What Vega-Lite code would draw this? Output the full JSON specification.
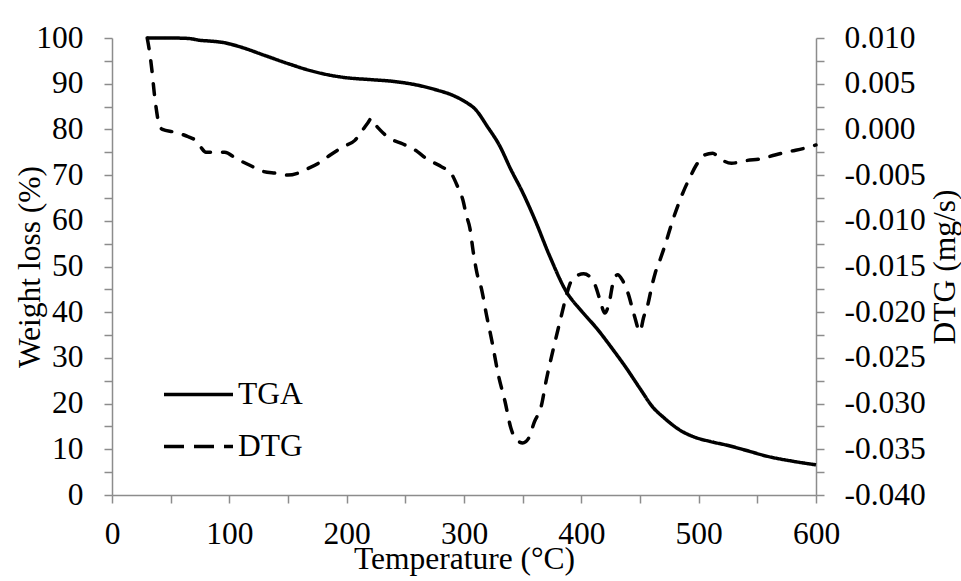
{
  "$schema": "https://vega.github.io/schema/vega-lite/v6.json",
  "width": 704,
  "height": 457,
  "autosize": "none",
  "padding": {"left": 112, "top": 38, "right": 145, "bottom": 86},
  "background": "white",
  "config": {
    "view": {"stroke": null},
    "font": "Liberation Serif",
    "axis": {
      "grid": false,
      "domainColor": "#8c8c8c",
      "domainWidth": 1.5,
      "tickColor": "#8c8c8c",
      "tickWidth": 1.5,
      "tickSize": 8,
      "labelFont": "Liberation Serif",
      "labelFontSize": 31.5,
      "labelColor": "black",
      "labelOverlap": false,
      "labelFlush": false,
      "labelBound": false,
      "titleFont": "Liberation Serif",
      "titleFontSize": 31.5,
      "titleFontWeight": "normal",
      "titleColor": "black"
    }
  },
  "datasets": {
    "tga": [
      {"series": "TGA", "T": 30, "W": 100},
      {"series": "TGA", "T": 50, "W": 100},
      {"series": "TGA", "T": 65, "W": 99.9},
      {"series": "TGA", "T": 75, "W": 99.5},
      {"series": "TGA", "T": 85, "W": 99.3},
      {"series": "TGA", "T": 95, "W": 99.0},
      {"series": "TGA", "T": 110, "W": 98.0},
      {"series": "TGA", "T": 130, "W": 96.2},
      {"series": "TGA", "T": 150, "W": 94.4},
      {"series": "TGA", "T": 170, "W": 92.8},
      {"series": "TGA", "T": 185, "W": 91.9},
      {"series": "TGA", "T": 200, "W": 91.3},
      {"series": "TGA", "T": 220, "W": 90.9},
      {"series": "TGA", "T": 240, "W": 90.5},
      {"series": "TGA", "T": 260, "W": 89.7},
      {"series": "TGA", "T": 277, "W": 88.6},
      {"series": "TGA", "T": 290, "W": 87.5},
      {"series": "TGA", "T": 300, "W": 86.2},
      {"series": "TGA", "T": 310, "W": 84.3},
      {"series": "TGA", "T": 320, "W": 80.6},
      {"series": "TGA", "T": 330, "W": 76.6},
      {"series": "TGA", "T": 340, "W": 71.2},
      {"series": "TGA", "T": 350, "W": 66.2},
      {"series": "TGA", "T": 360, "W": 60.5},
      {"series": "TGA", "T": 373, "W": 52.3},
      {"series": "TGA", "T": 387, "W": 44.6},
      {"series": "TGA", "T": 400, "W": 40.3},
      {"series": "TGA", "T": 413, "W": 36.5},
      {"series": "TGA", "T": 427, "W": 31.8},
      {"series": "TGA", "T": 438, "W": 27.9},
      {"series": "TGA", "T": 450, "W": 23.3},
      {"series": "TGA", "T": 461, "W": 19.2},
      {"series": "TGA", "T": 470, "W": 17.0},
      {"series": "TGA", "T": 484, "W": 14.2},
      {"series": "TGA", "T": 495, "W": 12.8},
      {"series": "TGA", "T": 510, "W": 11.7},
      {"series": "TGA", "T": 524, "W": 10.9},
      {"series": "TGA", "T": 540, "W": 9.8},
      {"series": "TGA", "T": 558, "W": 8.5},
      {"series": "TGA", "T": 580, "W": 7.4},
      {"series": "TGA", "T": 600, "W": 6.6}
    ],
    "dtg": [
      {"series": "DTG", "T": 30, "D": 0.0100},
      {"series": "DTG", "T": 32, "D": 0.0085},
      {"series": "DTG", "T": 34, "D": 0.0065},
      {"series": "DTG", "T": 36, "D": 0.0040},
      {"series": "DTG", "T": 38, "D": 0.0020},
      {"series": "DTG", "T": 40, "D": 0.0006},
      {"series": "DTG", "T": 43, "D": 0.0000},
      {"series": "DTG", "T": 53, "D": -0.0003},
      {"series": "DTG", "T": 65, "D": -0.0008},
      {"series": "DTG", "T": 72, "D": -0.0013},
      {"series": "DTG", "T": 76, "D": -0.0020},
      {"series": "DTG", "T": 80, "D": -0.0025},
      {"series": "DTG", "T": 86, "D": -0.0025},
      {"series": "DTG", "T": 96, "D": -0.0025},
      {"series": "DTG", "T": 106, "D": -0.0032},
      {"series": "DTG", "T": 117, "D": -0.0039},
      {"series": "DTG", "T": 129, "D": -0.0046},
      {"series": "DTG", "T": 140, "D": -0.0048},
      {"series": "DTG", "T": 150, "D": -0.0050},
      {"series": "DTG", "T": 158, "D": -0.0048},
      {"series": "DTG", "T": 165, "D": -0.0044},
      {"series": "DTG", "T": 176, "D": -0.0037},
      {"series": "DTG", "T": 186, "D": -0.0028},
      {"series": "DTG", "T": 197, "D": -0.0019},
      {"series": "DTG", "T": 207, "D": -0.0012},
      {"series": "DTG", "T": 214, "D": 0.0000},
      {"series": "DTG", "T": 218, "D": 0.0007},
      {"series": "DTG", "T": 221, "D": 0.0012},
      {"series": "DTG", "T": 224, "D": 0.0006},
      {"series": "DTG", "T": 228, "D": 0.0000},
      {"series": "DTG", "T": 237, "D": -0.0010},
      {"series": "DTG", "T": 248, "D": -0.0016},
      {"series": "DTG", "T": 260, "D": -0.0024},
      {"series": "DTG", "T": 268, "D": -0.0032},
      {"series": "DTG", "T": 281, "D": -0.0041},
      {"series": "DTG", "T": 289, "D": -0.0048},
      {"series": "DTG", "T": 295, "D": -0.0064},
      {"series": "DTG", "T": 299, "D": -0.0077},
      {"series": "DTG", "T": 302, "D": -0.0094},
      {"series": "DTG", "T": 305, "D": -0.0108},
      {"series": "DTG", "T": 308, "D": -0.0135},
      {"series": "DTG", "T": 311, "D": -0.0157},
      {"series": "DTG", "T": 315, "D": -0.0175},
      {"series": "DTG", "T": 319, "D": -0.0202},
      {"series": "DTG", "T": 324, "D": -0.0233},
      {"series": "DTG", "T": 329, "D": -0.0267},
      {"series": "DTG", "T": 335, "D": -0.0298},
      {"series": "DTG", "T": 340, "D": -0.0327},
      {"series": "DTG", "T": 345, "D": -0.0340},
      {"series": "DTG", "T": 350, "D": -0.0343},
      {"series": "DTG", "T": 355, "D": -0.0338},
      {"series": "DTG", "T": 360, "D": -0.0320},
      {"series": "DTG", "T": 366, "D": -0.0302},
      {"series": "DTG", "T": 370, "D": -0.0275},
      {"series": "DTG", "T": 376, "D": -0.0241},
      {"series": "DTG", "T": 382, "D": -0.0209},
      {"series": "DTG", "T": 386, "D": -0.0188},
      {"series": "DTG", "T": 390, "D": -0.0170},
      {"series": "DTG", "T": 395, "D": -0.0161},
      {"series": "DTG", "T": 402, "D": -0.0158},
      {"series": "DTG", "T": 408, "D": -0.0162},
      {"series": "DTG", "T": 412, "D": -0.0171},
      {"series": "DTG", "T": 416, "D": -0.0187},
      {"series": "DTG", "T": 420, "D": -0.0201},
      {"series": "DTG", "T": 424, "D": -0.0188},
      {"series": "DTG", "T": 427, "D": -0.0168},
      {"series": "DTG", "T": 431, "D": -0.0159},
      {"series": "DTG", "T": 435, "D": -0.0165},
      {"series": "DTG", "T": 440, "D": -0.0180},
      {"series": "DTG", "T": 445, "D": -0.0203},
      {"series": "DTG", "T": 450, "D": -0.0221},
      {"series": "DTG", "T": 453, "D": -0.0206},
      {"series": "DTG", "T": 457, "D": -0.0190},
      {"series": "DTG", "T": 460, "D": -0.0172},
      {"series": "DTG", "T": 463, "D": -0.0157},
      {"series": "DTG", "T": 467, "D": -0.0143},
      {"series": "DTG", "T": 471, "D": -0.0128},
      {"series": "DTG", "T": 478, "D": -0.0099},
      {"series": "DTG", "T": 487, "D": -0.0068},
      {"series": "DTG", "T": 492, "D": -0.0054},
      {"series": "DTG", "T": 498, "D": -0.0039},
      {"series": "DTG", "T": 505, "D": -0.0028},
      {"series": "DTG", "T": 512, "D": -0.0026},
      {"series": "DTG", "T": 518, "D": -0.0032},
      {"series": "DTG", "T": 528, "D": -0.0037},
      {"series": "DTG", "T": 541, "D": -0.0034},
      {"series": "DTG", "T": 554, "D": -0.0032},
      {"series": "DTG", "T": 565, "D": -0.0028},
      {"series": "DTG", "T": 578, "D": -0.0024},
      {"series": "DTG", "T": 589, "D": -0.0021},
      {"series": "DTG", "T": 600, "D": -0.0017}
    ]
  },
  "layer": [
    {
      "data": {"name": "tga"},
      "mark": {"type": "line", "color": "black", "strokeWidth": 3.5, "interpolate": "monotone"},
      "encoding": {
        "x": {
          "field": "T",
          "type": "quantitative",
          "scale": {"domain": [0, 600], "nice": false, "zero": false},
          "axis": {
            "orient": "bottom",
            "values": [0, 50, 100, 150, 200, 250, 300, 350, 400, 450, 500, 550, 600],
            "labelExpr": "datum.value % 100 === 0 ? datum.label : ''",
            "labelPadding": 15,
            "title": "Temperature (°C)",
            "titleBaseline": "alphabetic",
            "titlePadding": 19,
            "encode": {"ticks": {"update": {"y": {"signal": "datum.value % 100 === 0 ? -8 : 0"}}}}
          }
        },
        "y": {
          "field": "W",
          "type": "quantitative",
          "scale": {"domain": [0, 100], "nice": false},
          "axis": {
            "orient": "left",
            "values": [0, 5, 10, 15, 20, 25, 30, 35, 40, 45, 50, 55, 60, 65, 70, 75, 80, 85, 90, 95, 100],
            "labelExpr": "datum.value % 10 === 0 ? datum.label : ''",
            "labelPadding": 21,
            "title": "Weight loss (%)",
            "titleBaseline": "alphabetic",
            "titlePadding": -4,
            "encode": {"ticks": {"update": {"x": {"signal": "datum.value % 10 === 0 ? 9 : 0"}}}}
          }
        },
        "strokeDash": {
          "field": "series",
          "type": "nominal",
          "scale": {"domain": ["TGA", "DTG"], "range": [[1, 0], [20, 10]]},
          "legend": {
            "orient": "none",
            "legendX": 50,
            "legendY": 320,
            "title": null,
            "padding": 0,
            "symbolType": "stroke",
            "symbolSize": 4761,
            "symbolStrokeWidth": 3.5,
            "symbolStrokeColor": "black",
            "labelFont": "Liberation Serif",
            "labelFontSize": 31.5,
            "labelColor": "black",
            "labelOffset": 3,
            "rowPadding": -19
          }
        }
      }
    },
    {
      "data": {"name": "dtg"},
      "mark": {"type": "line", "color": "black", "strokeWidth": 3.5, "strokeCap": "round", "strokeDash": [11, 12], "interpolate": "monotone"},
      "encoding": {
        "x": {"field": "T", "type": "quantitative"},
        "y": {
          "field": "D",
          "type": "quantitative",
          "scale": {"domain": [-0.04, 0.01], "nice": false, "zero": false},
          "axis": {
            "orient": "right",
            "values": [-0.04, -0.0375, -0.035, -0.0325, -0.03, -0.0275, -0.025, -0.0225, -0.02, -0.0175, -0.015, -0.0125, -0.01, -0.0075, -0.005, -0.0025, 0, 0.0025, 0.005, 0.0075, 0.01],
            "labelExpr": "round(datum.value * 10000) % 50 === 0 ? (datum.value < 0 ? '-' : '') + format(abs(datum.value), '.3f') : ''",
            "labelPadding": 20,
            "title": "DTG (mg/s)",
            "titleAngle": -90,
            "titleBaseline": "alphabetic",
            "titlePadding": 29,
            "encode": {"ticks": {"update": {"x": {"signal": "round(datum.value * 10000) % 50 === 0 ? -9 : 0"}}}}
          }
        }
      }
    }
  ],
  "resolve": {"scale": {"y": "independent"}}
}
